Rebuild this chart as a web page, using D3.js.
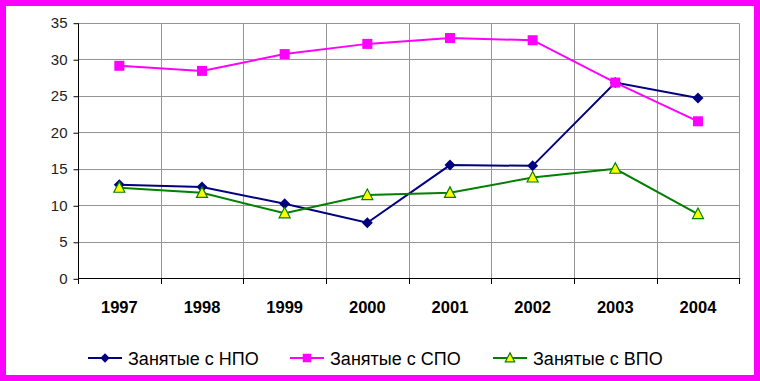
<!DOCTYPE html>
<html><head><meta charset="utf-8">
<script src="https://cdn.jsdelivr.net/npm/d3@7"></script>
<style>body{margin:0;background:#fff}svg{display:block}</style>
</head><body>
<svg id="c" width="760" height="381"></svg>
<script>
const years = ["1997","1998","1999","2000","2001","2002","2003","2004"];
const npo = [12.8, 12.5, 10.2, 7.6, 15.5, 15.4, 26.8, 24.7];
const spo = [29.1, 28.4, 30.7, 32.1, 32.9, 32.6, 26.8, 21.5];
const vpo = [12.4, 11.7, 8.9, 11.4, 11.7, 13.8, 15.0, 8.8];
const seriesNames = ["Занятые с НПО", "Занятые с СПО", "Занятые с ВПО"];
const yTicks = [0, 5, 10, 15, 20, 25, 30, 35];
const yTitle = "тыс. человек";

const svg = d3.select("#c");
const W = 760, H = 381;
const L = 78, R = 739.3, T = 22.7, B = 278.3;
const font = "Liberation Sans, Arial, sans-serif";

// frame
svg.append("rect").attr("x", 3).attr("y", 3).attr("width", W - 6).attr("height", H - 6)
  .attr("fill", "#fff").attr("stroke", "#ff00ff").attr("stroke-width", 6);

const x = d3.scaleBand().domain(years).range([L, R]);
const y = d3.scaleLinear().domain([0, 35]).range([B, T]);
const cx = d => x(d) + x.bandwidth() / 2;

// horizontal grid
svg.append("g").selectAll("line").data(yTicks.filter(v => v > 0)).join("line")
  .attr("x1", L).attr("x2", R).attr("y1", d => Math.round(y(d)) + 0.5).attr("y2", d => Math.round(y(d)) + 0.5)
  .attr("stroke", "#959595").attr("stroke-width", 1);
// vertical grid at boundaries
const bounds = years.slice(1).map(d => x(d)).concat([R]);
svg.append("g").selectAll("line").data(bounds).join("line")
  .attr("x1", d => Math.round(d) + 0.5).attr("x2", d => Math.round(d) + 0.5)
  .attr("y1", Math.round(T) + 0.5).attr("y2", B)
  .attr("stroke", "#959595").attr("stroke-width", 1);

// y axis
const yAxis = d3.axisLeft(y).tickValues(yTicks).tickSize(5).tickPadding(6);
const gy = svg.append("g").attr("transform", `translate(${Math.round(L) + 0.5},0)`).call(yAxis);
gy.select(".domain").attr("stroke", "#000").attr("d", `M0,${Math.round(T)+0.5}V${Math.round(B)+0.5}`);
gy.selectAll(".tick line").attr("stroke", "#000").attr("transform", "translate(0,0.5)");
gy.selectAll("text").attr("font-family", font).attr("font-size", 15).attr("fill", "#222");

// x axis line & ticks at boundaries
const allB = [L].concat(bounds);
svg.append("line").attr("x1", L).attr("x2", R + 1).attr("y1", Math.round(B) + 0.5).attr("y2", Math.round(B) + 0.5).attr("stroke", "#000");
svg.append("g").selectAll("line").data(allB).join("line")
  .attr("x1", d => Math.round(d) + 0.5).attr("x2", d => Math.round(d) + 0.5)
  .attr("y1", Math.round(B)).attr("y2", Math.round(B) + 6).attr("stroke", "#000");
svg.append("g").selectAll("text").data(years).join("text")
  .attr("x", d => cx(d)).attr("y", 313).attr("text-anchor", "middle")
  .attr("font-family", font).attr("font-size", 16.5).attr("font-weight", "bold").attr("fill", "#000")
  .text(d => d);

// y title clipped
svg.append("clipPath").attr("id", "yt").append("rect").attr("x", 9).attr("y", 100).attr("width", 6).attr("height", 110);
svg.append("text").attr("clip-path", "url(#yt)")
  .attr("transform", "translate(14,155) rotate(-90)").attr("text-anchor", "middle")
  .attr("font-family", font).attr("font-size", 14).attr("fill", "#000").text(yTitle);

const line = d3.line().x((d, i) => cx(years[i])).y(d => y(d));
const colors = ["#000080", "#ff00ff", "#008000"];
const data = [npo, spo, vpo];

function marker(g, type, px, py, s) {
  s = s || 1;
  if (type === 0) {
    const r = 5.5 * s;
    g.append("path").attr("d", `M${px},${py-r}L${px+r},${py}L${px},${py+r}L${px-r},${py}Z`).attr("fill", "#000080");
  } else if (type === 1) {
    const h = 5 * s;
    g.append("rect").attr("x", px - h).attr("y", py - h).attr("width", 2 * h).attr("height", 2 * h).attr("fill", "#ff00ff");
  } else {
    g.append("path").attr("d", `M${px},${py-6*s}L${px+5.5*s},${py+4.5*s}L${px-5.5*s},${py+4.5*s}Z`)
      .attr("fill", "#ffff00").attr("stroke", "#008000").attr("stroke-width", 1.2);
  }
}

data.forEach((s, k) => {
  svg.append("path").datum(s).attr("d", line).attr("fill", "none").attr("stroke", colors[k]).attr("stroke-width", 2);
});
data.forEach((s, k) => {
  const g = svg.append("g");
  s.forEach((v, i) => marker(g, k, cx(years[i]), y(v)));
});

// legend
const legX = [88, 290, 493];
const legY = 358;
seriesNames.forEach((n, k) => {
  const g = svg.append("g");
  g.append("line").attr("x1", legX[k]).attr("x2", legX[k] + 34).attr("y1", legY).attr("y2", legY)
    .attr("stroke", colors[k]).attr("stroke-width", 2);
  marker(g, k, legX[k] + 17, legY, 0.85);
  g.append("text").attr("x", legX[k] + 40).attr("y", legY + 6.5).attr("font-family", font)
    .attr("font-size", 18).attr("fill", "#000").text(n);
});
</script>
</body></html>
